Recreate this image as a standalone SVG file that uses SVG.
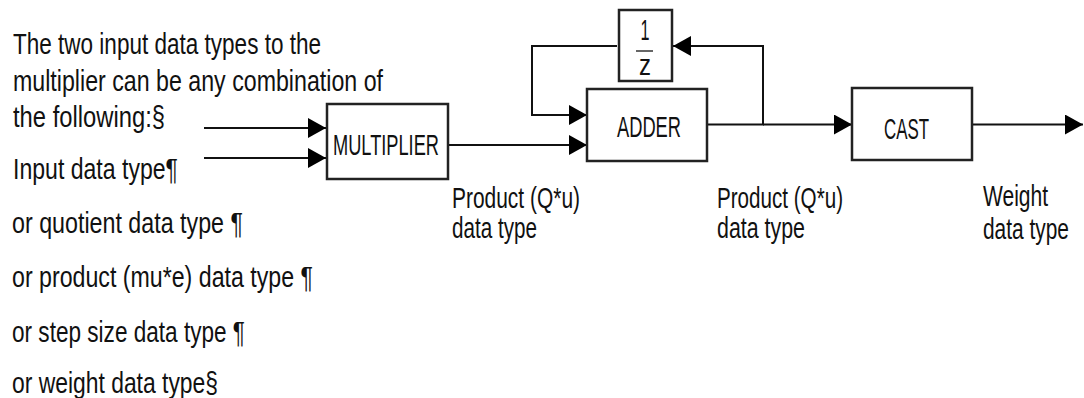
<svg xmlns="http://www.w3.org/2000/svg" width="1084" height="398" viewBox="0 0 1084 398">
<style>
text{font-family:"Liberation Sans Narrow","Liberation Sans",Arial,sans-serif;font-size:29px;fill:#111;}
.box{fill:#fff;stroke:#222;stroke-width:2.5;}
.wire{fill:none;stroke:#111;stroke-width:2;}
</style>
<defs>
<marker id="ah" markerWidth="18" markerHeight="20" refX="18" refY="10" orient="auto" markerUnits="userSpaceOnUse">
<path d="M0,0 L18,10 L0,20 Z" fill="#000"/>
</marker>
</defs>
<rect width="1084" height="398" fill="#fff"/>
<g id="notes">
<text x="13" y="54" textLength="308" lengthAdjust="spacingAndGlyphs">The two input data types to the</text>
<text x="13" y="91" textLength="370" lengthAdjust="spacingAndGlyphs">multiplier can be any combination of</text>
<text x="13" y="127" textLength="152" lengthAdjust="spacingAndGlyphs">the following:§</text>
<text x="13" y="179" textLength="165" lengthAdjust="spacingAndGlyphs">Input data type¶</text>
<text x="12" y="233" textLength="231" lengthAdjust="spacingAndGlyphs">or quotient data type ¶</text>
<text x="12" y="287" textLength="301" lengthAdjust="spacingAndGlyphs">or product (mu*e) data type ¶</text>
<text x="12" y="342" textLength="233" lengthAdjust="spacingAndGlyphs">or step size data type ¶</text>
<text x="12" y="393" textLength="206" lengthAdjust="spacingAndGlyphs">or weight data type§</text>
</g>
<g id="connectors">
<path class="wire" d="M204,128 H326" marker-end="url(#ah)"/>
<path class="wire" d="M204,158 H326" marker-end="url(#ah)"/>
<path class="wire" d="M448,145 H587" marker-end="url(#ah)"/>
<path class="wire" d="M617,46 H532 V115 H587" marker-end="url(#ah)"/>
<path class="wire" d="M707,124.5 H763 V46 H673" marker-end="url(#ah)"/>
<path class="wire" d="M763,124.5 H852" marker-end="url(#ah)"/>
<path class="wire" d="M972,124.5 H1083" marker-end="url(#ah)"/>
</g>
<g id="multiplier">
<rect class="box" x="327" y="104" width="121" height="75"/>
<text x="333" y="155" textLength="106" lengthAdjust="spacingAndGlyphs">MULTIPLIER</text>
</g>
<g id="adder">
<rect class="box" x="587" y="89" width="120" height="72"/>
<text x="617" y="137" textLength="64" lengthAdjust="spacingAndGlyphs">ADDER</text>
</g>
<g id="delay">
<rect class="box" x="619" y="10" width="53" height="71"/>
<text x="645" y="40" text-anchor="middle" font-size="26" textLength="9" lengthAdjust="spacingAndGlyphs">1</text>
<line x1="636" y1="51" x2="653" y2="51" stroke="#333" stroke-width="1.5"/>
<text x="645" y="75" text-anchor="middle" font-size="26" textLength="12" lengthAdjust="spacingAndGlyphs">z</text>
</g>
<g id="cast">
<rect class="box" x="852" y="88" width="120" height="72"/>
<text x="884" y="139" textLength="45" lengthAdjust="spacingAndGlyphs">CAST</text>
</g>
<g id="labels">
<text x="452" y="208" textLength="128" lengthAdjust="spacingAndGlyphs">Product (Q*u)</text>
<text x="452" y="238" textLength="85" lengthAdjust="spacingAndGlyphs">data type</text>
<text x="717" y="208" textLength="126" lengthAdjust="spacingAndGlyphs">Product (Q*u)</text>
<text x="717" y="238" textLength="88" lengthAdjust="spacingAndGlyphs">data type</text>
<text x="983" y="206" textLength="65" lengthAdjust="spacingAndGlyphs">Weight</text>
<text x="983" y="239" textLength="86" lengthAdjust="spacingAndGlyphs">data type</text>
</g>
</svg>
